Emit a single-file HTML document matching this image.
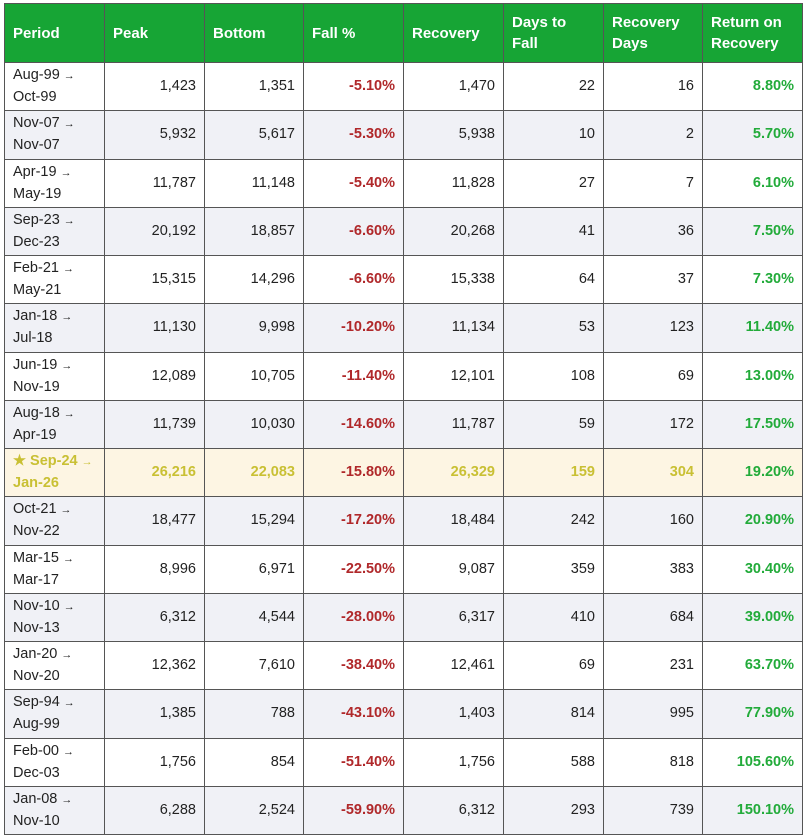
<!DOCTYPE html>
<html><head><meta charset="utf-8"><style>
body{margin:0;background:#fff;width:805px;height:839px;overflow:hidden;font-family:"Liberation Sans",sans-serif;}
table{position:absolute;left:4px;top:3px;border-collapse:collapse;table-layout:fixed;width:798px;font-size:14.5px;color:#222;}
td,th{border:1px solid #555;padding:0 8px;}
th{background:#17a535;color:#fff;text-align:left;font-weight:bold;height:58px;line-height:21px;font-size:15px;}
td{height:47.25px;line-height:21px;text-align:right;}
td:first-child{text-align:left;}
tr:nth-child(odd) td{background:#f0f1f6;}
.r{color:#b0282a;font-weight:bold;}
.g{color:#22ab3a;font-weight:bold;}
.a{font-size:11px;}
tr.h td{background:#fdf5e3;color:#c9c034;font-weight:bold;}
tr.h td.r{color:#b0282a;}
tr.h td.g{color:#22ab3a;}
</style></head><body>
<table>
<colgroup><col style="width:100px"><col style="width:100px"><col style="width:99px"><col style="width:100px"><col style="width:100px"><col style="width:100px"><col style="width:99px"><col style="width:100px"></colgroup>
<tr><th>Period</th><th>Peak</th><th>Bottom</th><th>Fall %</th><th>Recovery</th><th>Days to Fall</th><th>Recovery Days</th><th>Return on Recovery</th></tr>
<tr><td>Aug-99 <span class="a">→</span><br>Oct-99</td><td>1,423</td><td>1,351</td><td class="r">-5.10%</td><td>1,470</td><td>22</td><td>16</td><td class="g">8.80%</td></tr>
<tr><td>Nov-07 <span class="a">→</span><br>Nov-07</td><td>5,932</td><td>5,617</td><td class="r">-5.30%</td><td>5,938</td><td>10</td><td>2</td><td class="g">5.70%</td></tr>
<tr><td>Apr-19 <span class="a">→</span><br>May-19</td><td>11,787</td><td>11,148</td><td class="r">-5.40%</td><td>11,828</td><td>27</td><td>7</td><td class="g">6.10%</td></tr>
<tr><td>Sep-23 <span class="a">→</span><br>Dec-23</td><td>20,192</td><td>18,857</td><td class="r">-6.60%</td><td>20,268</td><td>41</td><td>36</td><td class="g">7.50%</td></tr>
<tr><td>Feb-21 <span class="a">→</span><br>May-21</td><td>15,315</td><td>14,296</td><td class="r">-6.60%</td><td>15,338</td><td>64</td><td>37</td><td class="g">7.30%</td></tr>
<tr><td>Jan-18 <span class="a">→</span><br>Jul-18</td><td>11,130</td><td>9,998</td><td class="r">-10.20%</td><td>11,134</td><td>53</td><td>123</td><td class="g">11.40%</td></tr>
<tr><td>Jun-19 <span class="a">→</span><br>Nov-19</td><td>12,089</td><td>10,705</td><td class="r">-11.40%</td><td>12,101</td><td>108</td><td>69</td><td class="g">13.00%</td></tr>
<tr><td>Aug-18 <span class="a">→</span><br>Apr-19</td><td>11,739</td><td>10,030</td><td class="r">-14.60%</td><td>11,787</td><td>59</td><td>172</td><td class="g">17.50%</td></tr>
<tr class="h"><td>★ Sep-24 <span class="a">→</span><br>Jan-26</td><td>26,216</td><td>22,083</td><td class="r">-15.80%</td><td>26,329</td><td>159</td><td>304</td><td class="g">19.20%</td></tr>
<tr><td>Oct-21 <span class="a">→</span><br>Nov-22</td><td>18,477</td><td>15,294</td><td class="r">-17.20%</td><td>18,484</td><td>242</td><td>160</td><td class="g">20.90%</td></tr>
<tr><td>Mar-15 <span class="a">→</span><br>Mar-17</td><td>8,996</td><td>6,971</td><td class="r">-22.50%</td><td>9,087</td><td>359</td><td>383</td><td class="g">30.40%</td></tr>
<tr><td>Nov-10 <span class="a">→</span><br>Nov-13</td><td>6,312</td><td>4,544</td><td class="r">-28.00%</td><td>6,317</td><td>410</td><td>684</td><td class="g">39.00%</td></tr>
<tr><td>Jan-20 <span class="a">→</span><br>Nov-20</td><td>12,362</td><td>7,610</td><td class="r">-38.40%</td><td>12,461</td><td>69</td><td>231</td><td class="g">63.70%</td></tr>
<tr><td>Sep-94 <span class="a">→</span><br>Aug-99</td><td>1,385</td><td>788</td><td class="r">-43.10%</td><td>1,403</td><td>814</td><td>995</td><td class="g">77.90%</td></tr>
<tr><td>Feb-00 <span class="a">→</span><br>Dec-03</td><td>1,756</td><td>854</td><td class="r">-51.40%</td><td>1,756</td><td>588</td><td>818</td><td class="g">105.60%</td></tr>
<tr><td>Jan-08 <span class="a">→</span><br>Nov-10</td><td>6,288</td><td>2,524</td><td class="r">-59.90%</td><td>6,312</td><td>293</td><td>739</td><td class="g">150.10%</td></tr>
</table>
</body></html>
